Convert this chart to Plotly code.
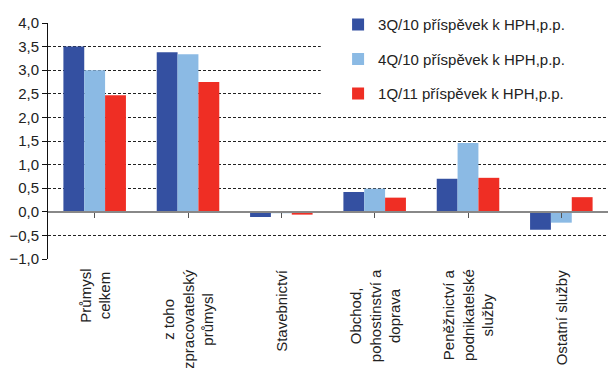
import plotly.graph_objects as go

categories = [
    "Průmysl<br>celkem",
    "z toho<br>zpracovatelský<br>průmysl",
    "Stavebnictví",
    "Obchod,<br>pohostinství a<br>doprava",
    "Peněžnictví a<br>podnikatelské<br>služby",
    "Ostatní služby",
]
series_names = [
    "3Q/10 příspěvek k HPH,p.p.",
    "4Q/10 příspěvek k HPH,p.p.",
    "1Q/11 příspěvek k HPH,p.p.",
]
q3_10 = [3.50, 3.38, -0.11, 0.42, 0.70, -0.38]
q4_10 = [3.00, 3.34, -0.03, 0.49, 1.46, -0.23]
q1_11 = [2.47, 2.75, -0.06, 0.30, 0.72, 0.31]
y_ticks = [-1.0, -0.5, 0.0, 0.5, 1.0, 1.5, 2.0, 2.5, 3.0, 3.5, 4.0]

colors = ["#3450a1", "#8bbae4", "#ef2e24"]
font_family = "Liberation Sans, Arial, sans-serif"

x_idx = list(range(len(categories)))

fig = go.Figure()
for i, (name, vals) in enumerate(zip(series_names, [q3_10, q4_10, q1_11])):
    fig.add_trace(go.Bar(
        x=x_idx, y=vals, name=name, marker_color=colors[i],
        marker_line_width=0, legendgroup=str(i),
    ))

# rotated category labels below the plot
for i, lab in enumerate(categories):
    fig.add_annotation(
        x=i, y=0, xref="x", yref="paper", text=lab, showarrow=False,
        textangle=-90, yanchor="top", xanchor="center", align="center",
        yshift=-8, font=dict(family=font_family, size=15, color="#222"),
    )

# white backing behind the legend
fig.add_shape(type="rect", xref="paper", yref="paper",
              x0=0.487, x1=1.0, y0=0.66, y1=1.02,
              fillcolor="white", line_width=0, layer="above")

fig.update_layout(
    width=608, height=368,
    margin=dict(l=48, r=0, t=23, b=109),
    plot_bgcolor="white", paper_bgcolor="white",
    barmode="group", bargap=0.33, bargroupgap=0,
    separators=", ",
    font=dict(family=font_family, size=15, color="#222"),
    showlegend=True,
    legend=dict(x=0.518, y=1.062, xanchor="left", yanchor="top",
                bgcolor="rgba(0,0,0,0)", font=dict(size=15, color="#222"),
                traceorder="grouped", tracegroupgap=12,
                itemwidth=30),
    xaxis=dict(
        range=[-0.5, 5.5], tickmode="array", tickvals=x_idx,
        showticklabels=False, tickson="boundaries", ticks="outside",
        ticklen=5, tickcolor="#555", showgrid=False,
        showline=True, linecolor="#888", linewidth=2,
        anchor="free", position=0.2, zeroline=False,
    ),
    yaxis=dict(
        range=[-1.0, 4.0], tickvals=y_ticks, tickformat=".1f",
        showgrid=True, gridcolor="#222", griddash="3px,2px", gridwidth=1,
        showline=True, linecolor="#111", linewidth=1,
        ticks="outside", ticklen=5, tickcolor="#111",
        zeroline=False, tickfont=dict(size=15, color="#222"),
    ),
)

fig.write_html("out.html")
